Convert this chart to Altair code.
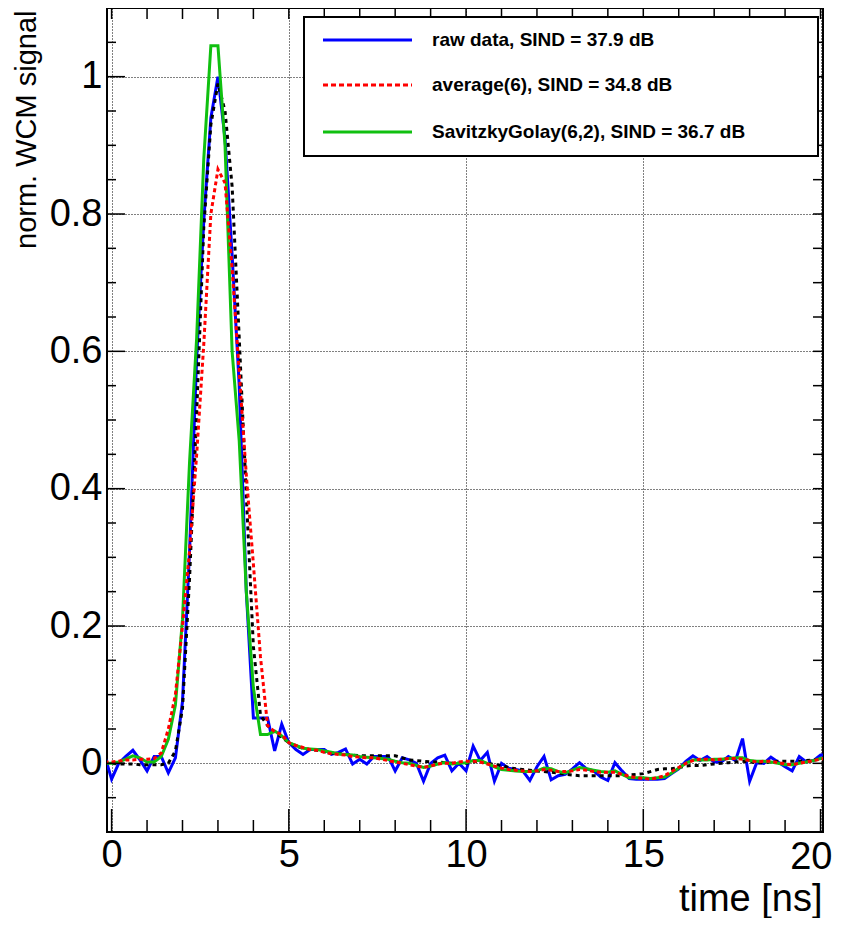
import altair as alt
import pandas as pd

# ---------------- data ----------------
time_ns = [-0.2, 0.0, 0.2, 0.4, 0.6, 0.8, 1.0, 1.2, 1.4, 1.6,
           1.8, 2.0, 2.2, 2.4, 2.6, 2.8, 3.0, 3.2, 3.4, 3.6,
           3.8, 4.0, 4.2, 4.4, 4.6, 4.8, 5.0, 5.2, 5.4, 5.6,
           5.8, 6.0, 6.2, 6.4, 6.6, 6.8, 7.0, 7.2, 7.4, 7.6,
           7.8, 8.0, 8.2, 8.4, 8.6, 8.8, 9.0, 9.2, 9.4, 9.6,
           9.8, 10.0, 10.2, 10.4, 10.6, 10.8, 11.0, 11.2, 11.4, 11.6,
           11.8, 12.0, 12.2, 12.4, 12.6, 12.8, 13.0, 13.2, 13.4, 13.6,
           13.8, 14.0, 14.2, 14.4, 14.6, 14.8, 15.0, 15.2, 15.4, 15.6,
           15.8, 16.0, 16.2, 16.4, 16.6, 16.8, 17.0, 17.2, 17.4, 17.6,
           17.8, 18.0, 18.2, 18.4, 18.6, 18.8, 19.0, 19.2, 19.4, 19.6,
           19.8, 20.0, 20.2]

raw_data = [0.012, -0.023, 0.0, 0.01, 0.019, 0.005, -0.011, 0.01, 0.01, -0.014,
            0.008, 0.09, 0.31, 0.59, 0.79, 0.94, 1.0, 0.91, 0.74, 0.55,
            0.25, 0.066, 0.066, 0.066, 0.018, 0.057, 0.03, 0.02, 0.013, 0.02,
            0.02, 0.02, 0.013, 0.016, 0.021, -0.001, 0.006, -0.001, 0.01, 0.01,
            0.01, -0.011, 0.008, 0.005, 0.0, -0.026, 0.0, 0.008, 0.012, -0.011,
            0.0, -0.011, 0.025, 0.004, 0.016, -0.026, 0.0, -0.007, -0.009, -0.011,
            -0.025, -0.005, 0.01, -0.024, -0.018, -0.016, -0.008, 0.001, -0.008, -0.011,
            -0.02, -0.025, 0.001, -0.011, -0.022, -0.023, -0.023, -0.023, -0.023, -0.022,
            -0.015, -0.008, 0.003, 0.011, 0.004, 0.01, 0.002, 0.002, 0.01, 0.004,
            0.036, -0.026, 0.001, 0.0, 0.009, 0.002, -0.005, -0.011, 0.01, 0.002,
            0.004, 0.012, 0.012]

average_6 = [0.002, 0.002, 0.003, 0.005, 0.005, 0.006, 0.006, 0.007, 0.015, 0.05,
             0.1, 0.2, 0.31, 0.45, 0.61, 0.8, 0.865, 0.845, 0.72, 0.57,
             0.42, 0.29, 0.155, 0.055, 0.046, 0.042, 0.03, 0.026, 0.023, 0.02,
             0.019, 0.016, 0.014, 0.013, 0.012, 0.01, 0.009, 0.008, 0.008, 0.006,
             0.004, 0.002, 0.0, -0.002, -0.004, -0.006, -0.004, -0.001, 0.0, 0.0,
             0.002, 0.003, 0.003, 0.002, -0.001, -0.004, -0.007, -0.009, -0.01, -0.011,
             -0.012, -0.011, -0.009, -0.01, -0.012, -0.012, -0.011, -0.009, -0.01, -0.012,
             -0.013, -0.013, -0.013, -0.016, -0.019, -0.021, -0.022, -0.023, -0.021, -0.018,
             -0.012, -0.006, 0.0, 0.004, 0.006, 0.006, 0.005, 0.006, 0.007, 0.007,
             0.006, 0.004, 0.002, 0.003, 0.003, 0.001, -0.001, -0.002, 0.0, 0.002,
             0.004, 0.006, 0.008]

savgol_6_2 = [0.0, 0.0, 0.002, 0.006, 0.011, 0.008, 0.002, 0.002, 0.01, 0.035,
              0.085, 0.21, 0.44, 0.62, 0.88, 1.045, 1.045, 0.9, 0.6, 0.47,
              0.25, 0.11, 0.042, 0.042, 0.047, 0.04, 0.03, 0.026, 0.022, 0.021,
              0.02, 0.018, 0.016, 0.014, 0.013, 0.012, 0.01, 0.009, 0.008, 0.007,
              0.006, 0.003, 0.001, 0.0, -0.003, -0.006, -0.004, -0.001, 0.001, -0.001,
              0.0, 0.001, 0.004, 0.004, 0.0, -0.005, -0.009, -0.01, -0.011, -0.012,
              -0.012, -0.011, -0.007, -0.008, -0.012, -0.014, -0.01, -0.006, -0.008, -0.01,
              -0.012, -0.013, -0.011, -0.016, -0.021, -0.021, -0.021, -0.022, -0.021, -0.02,
              -0.014, -0.007, 0.0, 0.005, 0.005, 0.005, 0.006, 0.006, 0.007, 0.008,
              0.008, 0.004, 0.003, 0.003, 0.002, 0.0, -0.002, -0.002, 0.0, 0.002,
              0.004, 0.007, 0.008]

reference = [0.0, 0.0, -0.001, -0.001, -0.001, -0.002, -0.002, -0.002, -0.002, 0.0,
             0.018, 0.08, 0.27, 0.51, 0.78, 0.93, 0.99, 0.95, 0.84, 0.62,
             0.39, 0.17, 0.07, 0.055, 0.045, 0.038, 0.03, 0.025, 0.022, 0.02,
             0.019, 0.017, 0.015, 0.014, 0.013, 0.012, 0.011, 0.011, 0.011, 0.011,
             0.011, 0.011, 0.008, 0.005, 0.004, 0.003, 0.002, 0.002, 0.001, 0.0,
             0.0, 0.0, 0.002, 0.003, 0.0, -0.002, -0.003, -0.006, -0.008, -0.009,
             -0.01, -0.011, -0.012, -0.013, -0.014, -0.016, -0.017, -0.018, -0.018, -0.018,
             -0.018, -0.018, -0.018, -0.018, -0.017, -0.016, -0.015, -0.012, -0.009, -0.008,
             -0.008, -0.006, -0.004, -0.003, -0.003, -0.002, -0.001, 0.0, 0.001, 0.002,
             0.003, 0.002, 0.001, 0.001, 0.002, 0.003, 0.003, 0.003, 0.003, 0.004,
             0.005, 0.006, 0.007]

legend_labels = ["raw data, SIND = 37.9 dB",
                 "average(6), SIND = 34.8 dB",
                 "SavitzkyGolay(6,2), SIND = 36.7 dB"]

x_major = [0, 5, 10, 15, 20]
x_minor = [1, 2, 3, 4, 6, 7, 8, 9, 11, 12, 13, 14, 16, 17, 18, 19]
y_major = [0, 0.2, 0.4, 0.6, 0.8, 1.0]
y_minor = [-0.05, 0.05, 0.1, 0.15, 0.25, 0.3, 0.35, 0.45, 0.5, 0.55,
           0.65, 0.7, 0.75, 0.85, 0.9, 0.95, 1.05]

# ---------------- layout / style ----------------
W, H = 716, 824
FONT = "Liberation Sans"
BLUE, RED, GREEN = "#0000ff", "#ff0000", "#10c010"

df = pd.DataFrame({"t": time_ns, "raw": raw_data, "avg": average_6,
                   "sg": savgol_6_2, "ref": reference})

xs = alt.Scale(domain=[-0.13, 20.07], nice=False, zero=False)
ys = alt.Scale(domain=[-0.1, 1.1], nice=False, zero=False)

# the last label ("20") is drawn as its own text mark, nudged to stay on the page
x_axis = alt.Axis(values=x_major, format="d", labelFont=FONT, labelFontSize=38,
                  labelColor="black", labelPadding=4, labelFlush=False,
                  labelOverlap=False,
                  labelExpr="datum.value == 20 ? '' : datum.label",
                  ticks=False, tickSize=0, domain=False,
                  grid=True, gridColor="black", gridDash=[1, 2], gridOpacity=1,
                  gridWidth=1, title="time [ns]", titleFont=FONT,
                  titleFontSize=38, titleFontWeight="normal", titleColor="black",
                  titleAlign="right", titleBaseline="alphabetic",
                  titleX=W - 1, titleY=78)
y_axis = alt.Axis(values=y_major, format="~g", labelFont=FONT, labelFontSize=38,
                  labelColor="black", labelPadding=5, labelFlush=False,
                  labelOverlap=False, ticks=False, tickSize=0, domain=False,
                  grid=True, gridColor="black", gridDash=[1, 2], gridOpacity=1,
                  gridWidth=1, title="norm. WCM signal", titleFont=FONT,
                  titleFontSize=29, titleFontWeight="normal", titleColor="black",
                  titleAngle=270, titleAlign="right", titleBaseline="alphabetic",
                  titleX=-72, titleY=2)


def series(field, color, width, dash=None):
    kw = dict(color=color, strokeWidth=width, clip=True)
    if dash:
        kw["strokeDash"] = dash
    return alt.Chart(df).mark_line(**kw).encode(
        x=alt.X("t:Q", scale=xs, axis=x_axis),
        y=alt.Y(f"{field}:Q", scale=ys, axis=y_axis),
    )


def xticks(vals, y1, y2):
    return alt.Chart(pd.DataFrame({"v": vals})).mark_rule(
        color="black", strokeWidth=1.5).encode(
        x=alt.X("v:Q", scale=xs, axis=x_axis),
        y=alt.value(y1), y2=alt.value(y2))


def yticks(vals, x1, x2):
    return alt.Chart(pd.DataFrame({"v": vals})).mark_rule(
        color="black", strokeWidth=1.5).encode(
        y=alt.Y("v:Q", scale=ys, axis=y_axis),
        x=alt.value(x1), x2=alt.value(x2))


last_label = alt.Chart(pd.DataFrame({"v": [x_major[-1]]})).mark_text(
    font=FONT, fontSize=38, color="black", align="right", baseline="top",
    dx=12, dy=7).encode(
    x=alt.X("v:Q", scale=xs, axis=x_axis),
    y=alt.value(H),
    text=alt.Text("v:Q", format="d"))

one = pd.DataFrame({"k": [0]})
legend_box = alt.Chart(one).mark_rect(
    fill="white", stroke="black", strokeWidth=2).encode(
    x=alt.value(197), x2=alt.value(711), y=alt.value(9), y2=alt.value(148))

legend_rows = [32, 77, 124]
legend_styles = [(BLUE, None), (RED, [5, 3]), (GREEN, None)]
legend_layers = [legend_box]
for lab, ry, (col, dash) in zip(legend_labels, legend_rows, legend_styles):
    kw = dict(color=col, strokeWidth=3)
    if dash:
        kw["strokeDash"] = dash
    legend_layers.append(alt.Chart(one).mark_rule(**kw).encode(
        x=alt.value(216), x2=alt.value(305), y=alt.value(ry)))
    legend_layers.append(alt.Chart(pd.DataFrame({"label": [lab]})).mark_text(
        align="left", baseline="middle", font=FONT, fontSize=19,
        fontWeight="bold", color="black").encode(
        x=alt.value(325), y=alt.value(ry), text="label:N"))

layers = [
    series("raw", BLUE, 3),
    series("ref", "black", 3, dash=[4, 4]),
    series("sg", GREEN, 3),
    series("avg", RED, 3, dash=[4, 3]),
    xticks(x_major, H, H - 23),
    xticks(x_minor, H, H - 12),
    xticks(x_major + x_minor, 0, 11),
    yticks(y_major, 0, 18),
    yticks(y_minor, 0, 9),
    yticks(y_major + y_minor, W, W - 10),
    last_label,
] + legend_layers

chart = alt.layer(*layers).properties(
    width=W, height=H,
    padding={"left": 99, "top": 0, "right": 10, "bottom": 86},
    autosize=alt.AutoSizeParams(type="none"),
    background="white",
).configure_view(stroke="black", strokeWidth=2)

chart.save("out.html", embed_options={"renderer": "svg", "actions": False})
